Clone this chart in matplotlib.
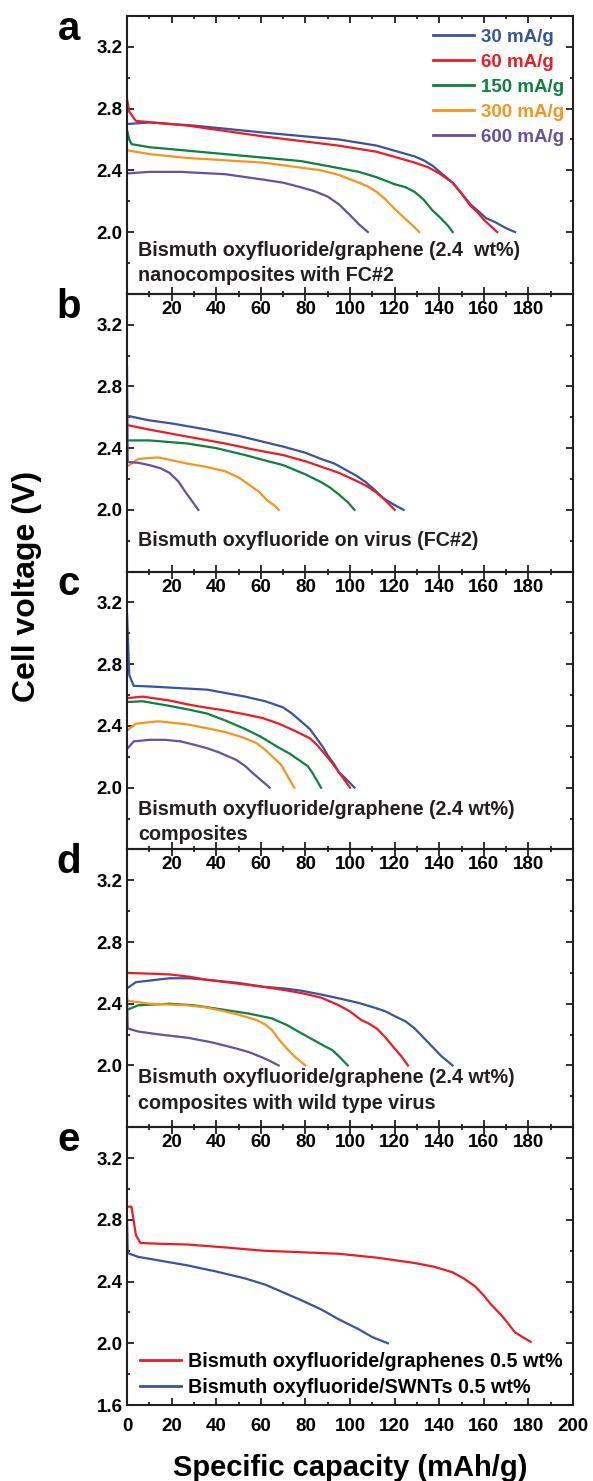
import matplotlib
matplotlib.use("Agg")
import matplotlib.pyplot as plt
from matplotlib.ticker import MultipleLocator, FuncFormatter

plt.rcParams['font.family'] = ['Liberation Sans', 'DejaVu Sans']
plt.rcParams['font.weight'] = 'bold'

# colours per current density
BLUE, RED, GREEN, ORANGE, PURPLE = '#3953A4', '#ED1C24', '#0E8040', '#F7941D', '#6650A0'
rates = ['30 mA/g', '60 mA/g', '150 mA/g', '300 mA/g', '600 mA/g']

# panel a: graphene 2.4 wt% nanocomposites with FC#2
a30_x = [0, 10, 30, 61, 95, 112, 129, 133, 137, 146, 150, 154, 158, 161, 165, 170, 174]
a30_y = [2.70, 2.71, 2.69, 2.645, 2.60, 2.56, 2.49, 2.465, 2.43, 2.32, 2.25, 2.18, 2.13, 2.09, 2.065, 2.025, 2.0]
a60_x = [0, 1, 4, 27, 61, 95, 112, 129, 135, 140, 146, 150, 154, 157, 160, 163, 166]
a60_y = [2.86, 2.78, 2.72, 2.69, 2.62, 2.56, 2.52, 2.45, 2.42, 2.38, 2.32, 2.25, 2.17, 2.13, 2.08, 2.04, 2.0]
a150_x = [0, 1, 2, 10, 44, 78, 104, 112, 120, 125, 129, 133, 137, 140, 142, 144, 146]
a150_y = [2.66, 2.60, 2.57, 2.55, 2.505, 2.46, 2.39, 2.355, 2.31, 2.29, 2.26, 2.21, 2.14, 2.10, 2.07, 2.04, 2.0]
a300_x = [0, 10, 27, 61, 87, 95, 104, 108, 112, 116, 120, 123, 126, 129, 131]
a300_y = [2.53, 2.505, 2.48, 2.45, 2.40, 2.37, 2.32, 2.295, 2.26, 2.21, 2.15, 2.11, 2.07, 2.03, 2.0]
a600_x = [0, 10, 24, 44, 61, 70, 78, 84, 90, 95, 100, 102, 104, 108]
a600_y = [2.38, 2.39, 2.39, 2.375, 2.34, 2.32, 2.29, 2.265, 2.23, 2.18, 2.11, 2.08, 2.05, 2.0]

# panel b: on virus (FC#2)
b30_x = [0, 10, 20, 36, 50, 60, 70, 80, 87, 93, 98, 103, 107, 111, 115, 119, 124]
b30_y = [2.61, 2.58, 2.56, 2.52, 2.48, 2.445, 2.41, 2.37, 2.33, 2.30, 2.26, 2.22, 2.18, 2.13, 2.075, 2.04, 2.0]
b60_x = [0, 10, 25, 44, 57, 70, 80, 87, 95, 104, 108, 112, 116, 120]
b60_y = [2.55, 2.52, 2.48, 2.43, 2.39, 2.355, 2.315, 2.28, 2.24, 2.18, 2.15, 2.11, 2.06, 2.0]
b150_x = [0, 10, 27, 40, 53, 62, 70, 80, 87, 91, 95, 99, 102]
b150_y = [2.45, 2.45, 2.43, 2.40, 2.355, 2.32, 2.29, 2.23, 2.18, 2.145, 2.10, 2.05, 2.0]
b300_x = [0, 5, 14, 27, 35, 44, 50, 54, 59, 63, 66, 68]
b300_y = [2.28, 2.33, 2.34, 2.30, 2.28, 2.25, 2.21, 2.17, 2.12, 2.06, 2.03, 2.0]
b600_x = [0, 0.3, 5, 10, 15, 19, 23, 26, 29, 32]
b600_y = [2.92, 2.31, 2.305, 2.29, 2.27, 2.24, 2.185, 2.12, 2.06, 2.0]

# panel c: graphene 2.4 wt% composites
c30_x = [0, 1, 3, 10, 36, 53, 62, 70, 74, 78, 82, 85, 88, 90, 93, 95, 98, 100, 102]
c30_y = [3.13, 2.73, 2.66, 2.656, 2.635, 2.59, 2.56, 2.52, 2.48, 2.43, 2.38, 2.32, 2.26, 2.21, 2.15, 2.10, 2.06, 2.03, 2.0]
c60_x = [0, 7, 19, 27, 35, 44, 53, 61, 68, 75, 82, 85, 88, 92, 95, 98, 100]
c60_y = [2.58, 2.59, 2.565, 2.54, 2.52, 2.50, 2.475, 2.45, 2.415, 2.37, 2.32, 2.28, 2.23, 2.16, 2.10, 2.04, 2.0]
c150_x = [0, 7, 19, 28, 36, 45, 53, 60, 68, 73, 78, 81, 83, 85, 87]
c150_y = [2.555, 2.56, 2.53, 2.505, 2.48, 2.43, 2.38, 2.33, 2.26, 2.22, 2.17, 2.14, 2.10, 2.05, 2.0]
c300_x = [0, 4, 14, 27, 36, 44, 51, 58, 62, 66, 69, 71, 73, 75]
c300_y = [2.37, 2.415, 2.43, 2.41, 2.385, 2.36, 2.33, 2.29, 2.245, 2.19, 2.15, 2.10, 2.05, 2.0]
c600_x = [0, 3, 10, 17, 24, 31, 36, 41, 45, 49, 53, 56, 60, 64]
c600_y = [2.25, 2.30, 2.31, 2.31, 2.30, 2.275, 2.255, 2.23, 2.205, 2.18, 2.14, 2.10, 2.05, 2.0]

# panel d: composites with wild type virus
d30_x = [0, 4, 19, 28, 36, 50, 61, 70, 78, 87, 95, 104, 112, 116, 120, 125, 129, 133, 137, 141, 146]
d30_y = [2.50, 2.54, 2.565, 2.565, 2.555, 2.535, 2.51, 2.50, 2.485, 2.46, 2.435, 2.405, 2.37, 2.35, 2.32, 2.285, 2.24, 2.18, 2.12, 2.06, 2.0]
d60_x = [0, 10, 19, 28, 36, 50, 61, 70, 78, 87, 95, 100, 105, 108, 112, 116, 120, 123, 126]
d60_y = [2.60, 2.595, 2.59, 2.575, 2.555, 2.53, 2.51, 2.49, 2.47, 2.44, 2.39, 2.35, 2.295, 2.275, 2.24, 2.18, 2.11, 2.06, 2.0]
d150_x = [0, 5, 19, 30, 44, 55, 65, 72, 78, 83, 88, 92, 95, 97, 99]
d150_y = [2.36, 2.39, 2.40, 2.39, 2.36, 2.335, 2.305, 2.26, 2.21, 2.17, 2.13, 2.10, 2.06, 2.03, 2.0]
d300_x = [0, 10, 18, 27, 36, 44, 51, 58, 62, 65, 68, 71, 75, 80]
d300_y = [2.42, 2.40, 2.395, 2.39, 2.375, 2.35, 2.325, 2.295, 2.265, 2.23, 2.17, 2.12, 2.06, 2.0]
d600_x = [0, 0.3, 5, 15, 27, 38, 49, 55, 61, 64, 68]
d600_y = [2.45, 2.24, 2.22, 2.20, 2.18, 2.15, 2.11, 2.085, 2.05, 2.03, 2.0]

# panel e: graphenes vs SWNTs, 0.5 wt%
e_gr_x = [0, 2, 4, 6, 14, 27, 45, 61, 78, 95, 112, 129, 138, 146, 151, 156, 160, 163, 168, 170, 174, 178, 181]
e_gr_y = [2.885, 2.885, 2.70, 2.65, 2.645, 2.64, 2.62, 2.60, 2.59, 2.58, 2.555, 2.52, 2.495, 2.46, 2.42, 2.37, 2.31, 2.255, 2.18, 2.145, 2.07, 2.035, 2.01]
e_sw_x = [0, 0.3, 5, 15, 27, 40, 53, 62, 70, 78, 87, 95, 104, 110, 117]
e_sw_y = [2.80, 2.585, 2.56, 2.535, 2.505, 2.465, 2.42, 2.38, 2.33, 2.28, 2.22, 2.155, 2.09, 2.04, 2.0]
e_labels = ['Bismuth oxyfluoride/graphenes 0.5 wt%', 'Bismuth oxyfluoride/SWNTs 0.5 wt%']

panel_letters = ['a', 'b', 'c', 'd', 'e']
notes = [
    ['Bismuth oxyfluoride/graphene (2.4  wt%)', 'nanocomposites with FC#2'],
    ['Bismuth oxyfluoride on virus (FC#2)'],
    ['Bismuth oxyfluoride/graphene (2.4 wt%)', 'composites'],
    ['Bismuth oxyfluoride/graphene (2.4 wt%)', 'composites with wild type virus'],
]
note_y = [[1.845, 1.684], [1.768], [1.82, 1.66], [1.884, 1.716]]

fig, axes = plt.subplots(5, 1, figsize=(5.93, 14.81), dpi=100)
fig.subplots_adjust(left=0.2142, right=0.9663, top=0.9892, bottom=0.0513, hspace=0)

colors = [BLUE, RED, GREEN, ORANGE, PURPLE]
panels = [
    [(a30_x, a30_y), (a60_x, a60_y), (a150_x, a150_y), (a300_x, a300_y), (a600_x, a600_y)],
    [(b30_x, b30_y), (b60_x, b60_y), (b150_x, b150_y), (b300_x, b300_y), (b600_x, b600_y)],
    [(c30_x, c30_y), (c60_x, c60_y), (c150_x, c150_y), (c300_x, c300_y), (c600_x, c600_y)],
    [(d30_x, d30_y), (d60_x, d60_y), (d150_x, d150_y), (d300_x, d300_y), (d600_x, d600_y)],
]

for i, ax in enumerate(axes):
    ax.set_facecolor('none')
    if i < 4:
        for (xs, ys), c, lab in zip(panels[i], colors, rates):
            ax.plot(xs, ys, color=c, lw=1.6, label=lab, solid_joinstyle='round')
        for txt, yy in zip(notes[i], note_y[i]):
            ax.text(0.025, yy, txt, transform=ax.get_yaxis_transform(),
                    fontsize=14.2, fontweight='bold', color='#231F20', va='baseline')
    else:
        ax.plot(e_gr_x, e_gr_y, color=RED, lw=1.6, label=e_labels[0], solid_joinstyle='round')
        ax.plot(e_sw_x, e_sw_y, color=BLUE, lw=1.6, label=e_labels[1], solid_joinstyle='round')

    ax.set_xlim(0, 200)
    ax.set_ylim(1.6, 3.4)
    ax.xaxis.set_major_locator(MultipleLocator(20))
    ax.xaxis.set_minor_locator(MultipleLocator(10))
    ax.yaxis.set_major_locator(MultipleLocator(0.4))
    ax.yaxis.set_minor_locator(MultipleLocator(0.2))
    for s in ax.spines.values():
        s.set_linewidth(1.5)
        s.set_color('#231F20')
    ax.tick_params(which='both', direction='in', top=True, right=True, color='#231F20')
    ax.tick_params(which='major', length=5, width=1.3, labelsize=13.5)
    ax.tick_params(which='minor', length=2.5, width=1.3)
    ax.tick_params(axis='y', pad=3)
    if i < 4:
        ax.tick_params(axis='x', pad=5)
        ax.xaxis.set_major_formatter(FuncFormatter(lambda v, p: '' if v < 1 or v > 199 else f'{v:.0f}'))
        ax.yaxis.set_major_formatter(FuncFormatter(lambda v, p: '' if v < 1.7 else f'{v:.1f}'))
    else:
        ax.tick_params(axis='x', pad=9)
        ax.xaxis.set_major_formatter(FuncFormatter(lambda v, p: f'{v:.0f}'))
        ax.yaxis.set_major_formatter(FuncFormatter(lambda v, p: f'{v:.1f}'))
    ax.text(-0.13, 0.914, panel_letters[i], transform=ax.transAxes,
            fontsize=29, fontweight='bold', ha='center', va='baseline')

leg = axes[0].legend(loc='upper left', bbox_to_anchor=(0.686, 0.955), frameon=False,
                     fontsize=13.5, handlelength=2.2, handletextpad=0.35,
                     labelspacing=0.42, borderpad=0, borderaxespad=0, labelcolor='linecolor')
for ln in leg.get_lines():
    ln.set_linewidth(2.0)
leg_e = axes[4].legend(loc='upper left', bbox_to_anchor=(0.029, 0.19), frameon=False,
                       fontsize=14.2, handlelength=2.1, handletextpad=0.35,
                       labelspacing=0.33, borderpad=0, borderaxespad=0)
for ln in leg_e.get_lines():
    ln.set_linewidth(2.0)

fig.text(27 / 593, 1 - 586 / 1481, 'Cell voltage (V)', rotation=90, fontsize=23,
         fontweight='bold', ha='center', va='center')
fig.text(350 / 593, 1 - 1476 / 1481, 'Specific capacity (mAh/g)', fontsize=21,
         fontweight='bold', ha='center', va='baseline')

fig.savefig('out.png', dpi=100)
